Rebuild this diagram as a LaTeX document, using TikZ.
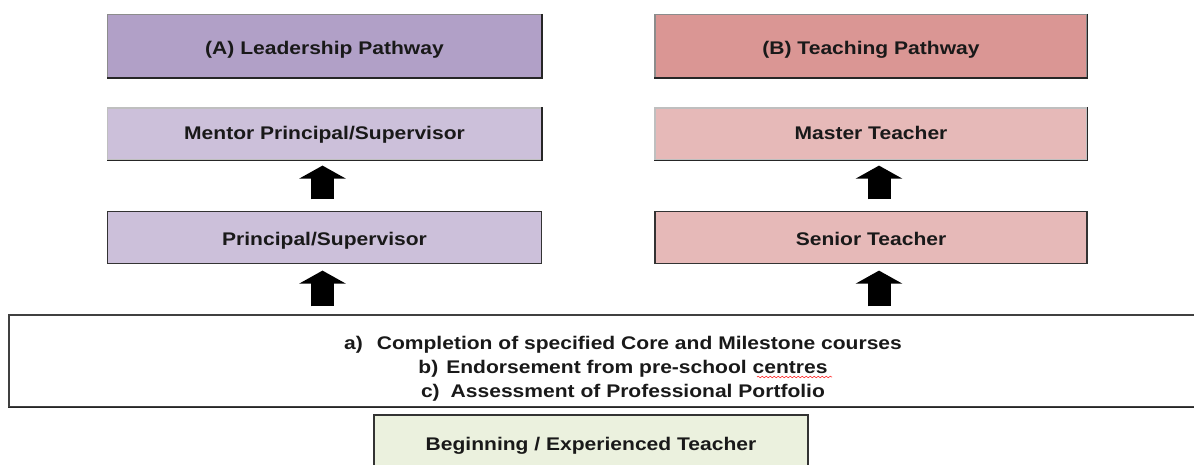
\documentclass[tikz,border=0pt]{standalone}
\usepackage{fontspec}
\newfontfamily\arialb{Liberation Sans}[FakeStretch=1.15]
\usetikzlibrary{arrows.meta,calc,decorations.pathmorphing}
\definecolor{leadC}{HTML}{B1A0C7}
\definecolor{teachC}{HTML}{DA9694}
\definecolor{leadL}{HTML}{CCC0DA}
\definecolor{teachL}{HTML}{E6B9B8}
\definecolor{beginC}{HTML}{EBF1DE}
\newcommand{\lblfont}{\arialb\bfseries\fontsize{18.3}{24}\selectfont}
\begin{document}
\begin{tikzpicture}[x=1pt,y=-1pt,
  box/.style={draw=black!45, line width=1.2pt, minimum width=434pt, minimum height=52pt,
    inner sep=0pt, font=\lblfont, text=black!90, text height=15pt, text depth=0pt},
  darkedge/.style={draw=black!85, line width=1.4pt},
  up/.style={line width=23pt, line cap=butt, -{Triangle[length=13pt,width=46pt]}}]
\path[use as bounding box] (0,0) rectangle (1194,465);
\clip (0,0) rectangle (1194,465);

\node[box, fill=leadC, minimum height=63pt, text height=18pt] (lead) at (324.5,46) {(A) Leadership Pathway};
\node[box, fill=teachC, minimum height=63pt, minimum width=432pt, text height=18pt] (teach) at (871,46) {(B) Teaching Pathway};
\node[box, fill=leadL, draw=black!25, text height=12pt] (mentor) at (324.5,134) {Mentor Principal/Supervisor};
\node[box, fill=teachL, draw=black!25, minimum width=432pt, text height=12pt] (master) at (871,134) {Master Teacher};
\node[box, fill=leadL, draw=black!80] (princ) at (324.5,237.5) {Principal/Supervisor};
\node[box, fill=teachL, draw=black!80, minimum width=432pt] (senior) at (871,237.5) {Senior Teacher};

\node[box, fill=white, draw=black!75, minimum width=1228pt, minimum height=92pt] (crit) at (623,361) {};
\node[font=\lblfont, text=black!90, align=center, inner sep=0pt] (critlbl) at (623,369)
  {a)\hspace{14pt}Completion of specified Core and Milestone courses\\
   b)\hspace{8pt}Endorsement from pre-school centres\\
   c)\hspace{11pt}Assessment of Professional Portfolio};
\node[box, fill=beginC, draw=black!80, minimum height=56pt, text height=14pt] (begin) at (591,443) {Beginning / Experienced Teacher};

\foreach \n in {lead,teach,mentor,master}
  \draw[darkedge] (\n.north east) -- (\n.south east) -- (\n.south west);
\draw[darkedge] (crit.south west) -- (crit.south east);

\draw[red!80, line width=0.6pt, decorate, decoration={snake, amplitude=0.8pt, segment length=4pt}]
  (757,377) -- (832,377);

\draw[up, shorten >=5pt, shorten <=11.5pt] ($(princ.north)+(-2,0)$) -- ($(mentor.south)+(-2,0)$);
\draw[up, shorten >=5pt, shorten <=11.5pt] ($(senior.north)+(8,0)$) -- ($(master.south)+(8,0)$);
\draw[up, shorten >=6.5pt, shorten <=8pt] ($(crit.north -| princ.south)+(-2,0)$) -- ($(princ.south)+(-2,0)$);
\draw[up, shorten >=6.5pt, shorten <=8pt] ($(crit.north -| senior.south)+(8,0)$) -- ($(senior.south)+(8,0)$);
\end{tikzpicture}
\end{document}
